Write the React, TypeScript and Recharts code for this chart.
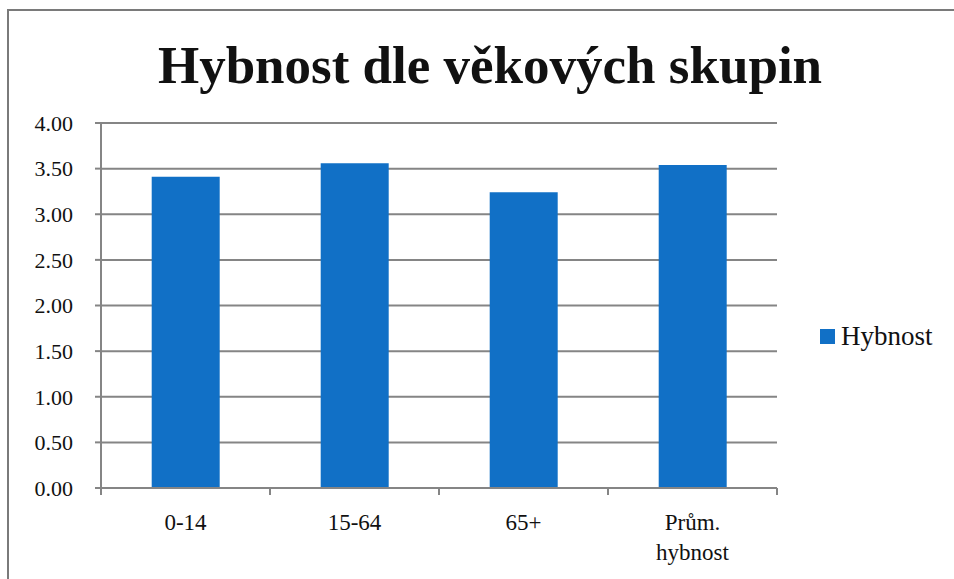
import React from "react"
import { BarChart, Bar, XAxis, YAxis, CartesianGrid, Legend } from "recharts"

const categories = ["0-14", "15-64", "65+", "Prům.\nhybnost"]
const hybnost = [3.41, 3.56, 3.24, 3.54]
const yTicks = [0, 0.5, 1, 1.5, 2, 2.5, 3, 3.5, 4]

const data = categories.map((name, i) => ({ name, hybnost: hybnost[i] }))

const FONT = "'Liberation Serif', 'DejaVu Serif', serif"
const GRID = "#858585"
const BLUE = "#1170c6"
const LEGEND_W = 130

function CategoryTick(props: any) {
  const { x, y, payload, index, width, visibleTicksCount } = props
  const band = width / visibleTicksCount
  const lines = String(payload.value).split("\n")
  return (
    <g>
      <line x1={x - band / 2} y1={y} x2={x - band / 2} y2={y + 7} stroke={GRID} strokeWidth={2} />
      {index === visibleTicksCount - 1 && (
        <line x1={x + band / 2} y1={y} x2={x + band / 2} y2={y + 7} stroke={GRID} strokeWidth={2} />
      )}
      <text textAnchor="middle" fontFamily={FONT} fontSize={23} fill="#111">
        {lines.map((l, i) => (
          <tspan key={i} x={x} y={y + 42 + i * 30}>{l}</tspan>
        ))}
      </text>
    </g>
  )
}

function LegendBox() {
  return (
    <div style={{ display: "flex", alignItems: "center", fontFamily: FONT, fontSize: 27, color: "#111" }}>
      <span style={{ width: 15, height: 15, background: BLUE, marginRight: 6, display: "inline-block" }} />
      Hybnost
    </div>
  )
}

export default function App() {
  return (
    <div style={{ position: "absolute", left: 0, top: 0, width: 954, height: 579, background: "#fff", overflow: "hidden" }}>
      <div style={{ position: "absolute", left: 7, top: 9, width: 1000, height: 700, border: "2px solid #7a7a7a" }} />
      <div style={{
        position: "absolute", left: 0, top: 35, width: 980, textAlign: "center",
        fontFamily: FONT, fontWeight: "bold", fontSize: 53, color: "#111"
      }}>
        Hybnost dle věkových skupin
      </div>
      <div style={{ position: "absolute", left: 0, top: 0 }}>
        <BarChart width={954} height={579} data={data} margin={{ top: 123, right: 177 - LEGEND_W, bottom: 21, left: 0 }} barCategoryGap="30%">
          <CartesianGrid vertical={false} stroke={GRID} strokeWidth={2} />
          <XAxis
            dataKey="name"
            height={70}
            interval={0}
            tickLine={false}
            tickSize={0}
            tickMargin={0}
            axisLine={{ stroke: GRID, strokeWidth: 2 }}
            tick={<CategoryTick />}
          />
          <YAxis
            width={101}
            domain={[0, 4]}
            ticks={yTicks}
            interval={0}
            tickFormatter={(v: number) => v.toFixed(2)}
            tickSize={6}
            tickMargin={22}
            tickLine={{ stroke: GRID, strokeWidth: 2 }}
            axisLine={{ stroke: GRID, strokeWidth: 2 }}
            tick={{ fontFamily: FONT, fontSize: 22, fill: "#111" }}
          />
          <Legend
            layout="vertical"
            align="right"
            verticalAlign="middle"
            content={<LegendBox />}
            wrapperStyle={{ left: 820, top: 321, width: LEGEND_W }}
          />
          <Bar dataKey="hybnost" name="Hybnost" fill={BLUE} isAnimationActive={false} />
        </BarChart>
      </div>
    </div>
  )
}
